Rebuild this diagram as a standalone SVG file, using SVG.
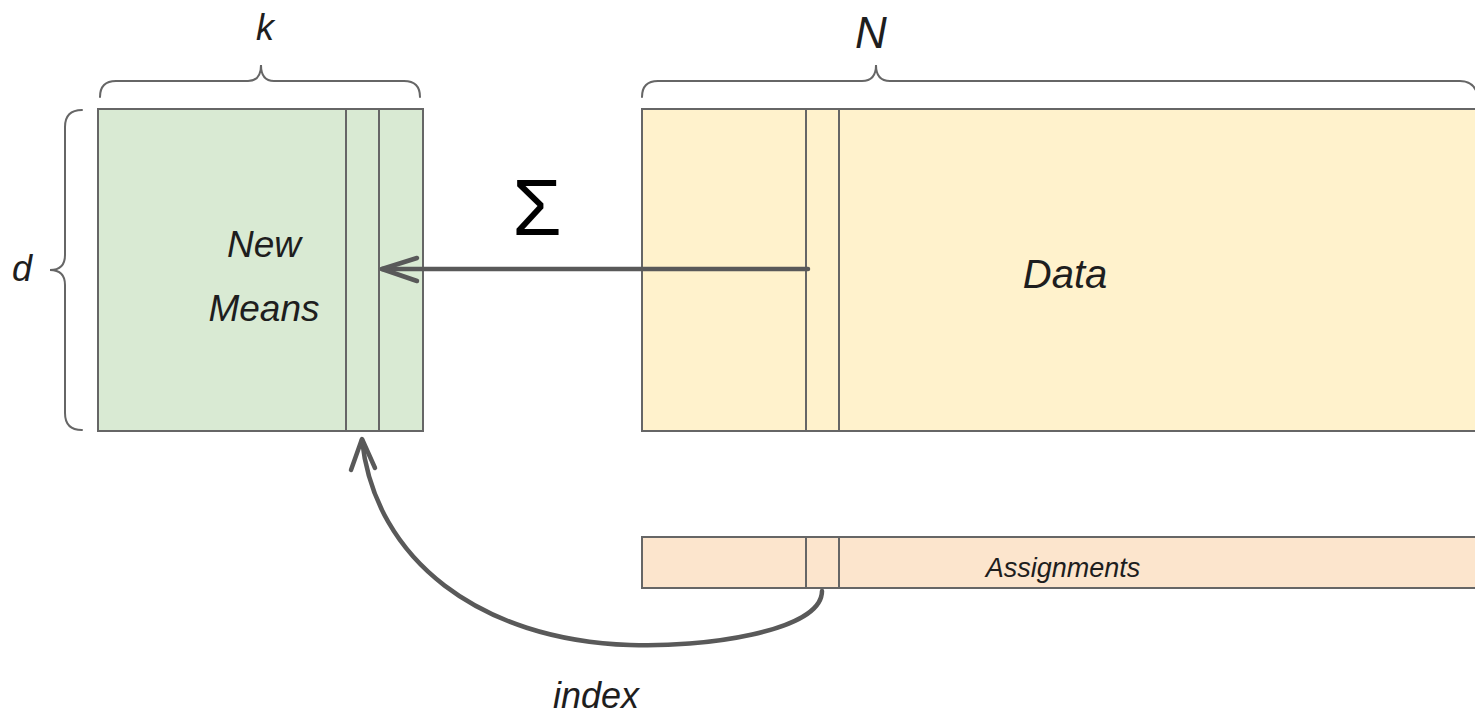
<svg xmlns="http://www.w3.org/2000/svg" width="1475" height="717" viewBox="0 0 1475 717">
  <style>
    .box { stroke: #666666; stroke-width: 2; }
    .brace { fill: none; stroke: #666666; stroke-width: 2; stroke-linecap: round; }
    .hand { font-family: "Liberation Sans", "DejaVu Sans", sans-serif; font-style: italic; fill: #1e1e1e; }
    .wire { fill: none; stroke: #595959; stroke-width: 4.5; stroke-linecap: round; stroke-linejoin: round; }
  </style>
  <rect width="1475" height="717" fill="#ffffff"/>

  <!-- dimension braces and labels -->
  <g id="brace-k">
    <path class="brace" d="M 100 97 Q 100 81 116 81 L 248 81 Q 261 81 261 65 Q 261 81 274 81 L 404 81 Q 420 81 420 97"/>
    <text class="hand" x="265" y="40" font-size="36" text-anchor="middle">k</text>
  </g>
  <g id="brace-d">
    <path class="brace" d="M 82 110 Q 65 110 65 127 L 65 255 Q 65 270 50 270 Q 65 270 65 285 L 65 413 Q 65 430 82 430"/>
    <text class="hand" x="22" y="281" font-size="36" text-anchor="middle">d</text>
  </g>
  <g id="brace-n">
    <path class="brace" d="M 642 97 Q 642 81 658 81 L 862 81 Q 876 81 876 65 Q 876 81 890 81 L 1460 81 Q 1475 81 1478 97"/>
    <text class="hand" x="871" y="48" font-size="44" text-anchor="middle">N</text>
  </g>

  <!-- new means matrix (d x k) -->
  <g id="new-means">
    <rect class="box" x="98" y="109" width="325" height="322" fill="#d9ead3"/>
    <rect class="box" x="346" y="109" width="33" height="322" fill="#d9ead3"/>
    <text class="hand" x="264" y="257" font-size="37" text-anchor="middle">New</text>
    <text class="hand" x="264" y="321" font-size="37" text-anchor="middle">Means</text>
  </g>

  <!-- data matrix (d x N) -->
  <g id="data">
    <rect class="box" x="642" y="109" width="840" height="322" fill="#fff2cc"/>
    <rect class="box" x="806" y="109" width="33" height="322" fill="#fff2cc"/>
    <text class="hand" x="1065" y="288" font-size="40" text-anchor="middle">Data</text>
  </g>

  <!-- assignment vector (1 x N) -->
  <g id="assignments">
    <rect class="box" x="642" y="537" width="840" height="51" fill="#fce5cd"/>
    <rect class="box" x="806" y="537" width="33" height="51" fill="#fce5cd"/>
    <text class="hand" x="1063" y="577" font-size="27" text-anchor="middle">Assignments</text>
  </g>

  <!-- sum symbol -->
  <g id="sum-label">
    <text x="537" y="235" font-family="Liberation Sans, sans-serif" font-size="80" text-anchor="middle" fill="#000000">Σ</text>
  </g>

  <!-- index label -->
  <g id="index-label">
    <text class="hand" x="596" y="708" font-size="36" text-anchor="middle">index</text>
  </g>

  <!-- connectors -->
  <g id="connectors">
    <path class="wire" d="M 808 269 L 382 269"/>
    <path class="wire" d="M 417 258 L 382 269 L 417 281"/>
    <path class="wire" d="M 822 591 C 822 632 700 648 630 645 C 480 640 375 560 362 440"/>
    <path class="wire" d="M 351 470 L 362 439 L 375 468"/>
  </g>
</svg>
